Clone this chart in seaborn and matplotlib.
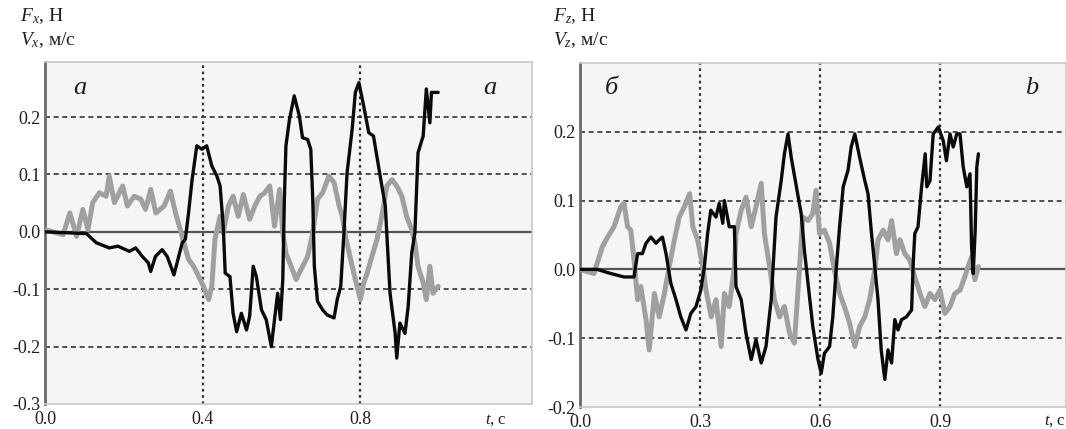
import numpy as np
import pandas as pd
import matplotlib
matplotlib.use("Agg")
import matplotlib.pyplot as plt
import seaborn as sns

# ---------------- data ----------------
# Panel a: black curve
ta_black = [0.0, 0.105, 0.13, 0.163, 0.185, 0.214, 0.23, 0.247, 0.262, 0.268, 0.28, 0.297, 0.31, 0.327,
            0.339, 0.348, 0.356, 0.364, 0.373, 0.385, 0.398, 0.41, 0.423, 0.436, 0.444, 0.452, 0.457,
            0.469, 0.477, 0.486, 0.498, 0.511, 0.519, 0.528, 0.536, 0.549, 0.561, 0.574, 0.582, 0.59,
            0.597, 0.603, 0.607, 0.611, 0.62, 0.632, 0.645, 0.653, 0.666, 0.674, 0.679, 0.683, 0.691,
            0.704, 0.716, 0.733, 0.741, 0.75, 0.758, 0.766, 0.779, 0.787, 0.796, 0.808, 0.821, 0.833,
            0.85, 0.863, 0.875, 0.888, 0.892, 0.9, 0.913, 0.921, 0.93, 0.938, 0.946, 0.959, 0.967,
            0.976, 0.98, 0.997]
va_black = [0.0, -0.003, -0.019, -0.028, -0.025, -0.034, -0.028, -0.043, -0.054, -0.069, -0.043, -0.031,
            -0.043, -0.075, -0.043, -0.019, -0.013, 0.033, 0.091, 0.15, 0.144, 0.15, 0.115, 0.097, 0.08,
            0.01, -0.072, -0.078, -0.142, -0.174, -0.142, -0.171, -0.147, -0.06, -0.078, -0.136, -0.153,
            -0.2, -0.153, -0.107, -0.153, -0.083, 0.057, 0.15, 0.196, 0.237, 0.202, 0.164, 0.161, 0.144,
            0.057, -0.06, -0.121, -0.136, -0.145, -0.15, -0.118, -0.095, -0.002, 0.103, 0.179, 0.243,
            0.26, 0.22, 0.173, 0.167, 0.097, 0.045, -0.107, -0.177, -0.22, -0.159, -0.177, -0.13, -0.037,
            -0.002, 0.138, 0.167, 0.249, 0.19, 0.243, 0.243]
# Panel a: grey curve
ta_grey = [0.0, 0.046, 0.063, 0.08, 0.096, 0.109, 0.121, 0.138, 0.155, 0.163, 0.176, 0.197, 0.209, 0.226,
           0.243, 0.255, 0.268, 0.281, 0.302, 0.318, 0.331, 0.343, 0.352, 0.364, 0.377, 0.39, 0.402,
           0.415, 0.423, 0.431, 0.444, 0.452, 0.465, 0.477, 0.49, 0.503, 0.519, 0.532, 0.545, 0.557,
           0.57, 0.582, 0.595, 0.603, 0.611, 0.624, 0.637, 0.649, 0.666, 0.679, 0.691, 0.704, 0.72,
           0.733, 0.746, 0.754, 0.762, 0.775, 0.787, 0.8, 0.808, 0.817, 0.829, 0.842, 0.854, 0.867,
           0.88, 0.892, 0.905, 0.917, 0.93, 0.938, 0.946, 0.959, 0.967, 0.976, 0.984, 0.997]
va_grey = [0.004, -0.005, 0.033, -0.008, 0.039, 0.004, 0.051, 0.068, 0.062, 0.097, 0.051, 0.08, 0.045,
           0.062, 0.057, 0.039, 0.074, 0.033, 0.045, 0.071, 0.033, 0.004, -0.019, -0.048, -0.06, -0.078,
           -0.095, -0.118, -0.095, -0.013, 0.027, -0.002, 0.045, 0.062, 0.027, 0.065, 0.022, 0.045,
           0.062, 0.068, 0.08, 0.01, 0.074, -0.002, -0.037, -0.06, -0.083, -0.066, -0.043, -0.002,
           0.057, 0.068, 0.097, 0.086, 0.045, 0.027, -0.008, -0.048, -0.083, -0.118, -0.089, -0.072,
           -0.043, -0.013, 0.027, 0.08, 0.091, 0.08, 0.062, 0.027, 0.004, -0.019, -0.06, -0.089, -0.118,
           -0.06, -0.107, -0.095]

# Panel b: black curve
tb_black = [0.0, 0.043, 0.077, 0.11, 0.135, 0.144, 0.156, 0.165, 0.177, 0.19, 0.198, 0.206, 0.215, 0.227,
            0.24, 0.252, 0.265, 0.277, 0.29, 0.302, 0.311, 0.319, 0.327, 0.34, 0.348, 0.357, 0.361,
            0.373, 0.386, 0.39, 0.403, 0.415, 0.428, 0.44, 0.453, 0.465, 0.478, 0.49, 0.503, 0.511,
            0.52, 0.528, 0.541, 0.553, 0.561, 0.57, 0.582, 0.595, 0.603, 0.611, 0.624, 0.632, 0.641,
            0.649, 0.658, 0.67, 0.678, 0.687, 0.699, 0.712, 0.72, 0.728, 0.737, 0.745, 0.753, 0.762,
            0.77, 0.779, 0.787, 0.795, 0.804, 0.816, 0.829, 0.833, 0.837, 0.845, 0.854, 0.863, 0.867,
            0.875, 0.883, 0.896, 0.908, 0.916, 0.925, 0.933, 0.942, 0.95, 0.958, 0.967, 0.975, 0.979,
            0.983, 0.988, 0.992, 0.996]
vb_black = [0.0, 0.0, -0.006, -0.011, -0.011, 0.023, 0.023, 0.038, 0.047, 0.038, 0.043, 0.047, 0.023,
            -0.02, -0.044, -0.069, -0.088, -0.064, -0.054, -0.03, 0.004, 0.052, 0.086, 0.076, 0.096,
            0.067, 0.1, 0.062, 0.062, -0.025, -0.044, -0.093, -0.131, -0.102, -0.136, -0.112, -0.044,
            0.076, 0.129, 0.168, 0.197, 0.163, 0.12, 0.081, 0.028, -0.02, -0.083, -0.131, -0.151,
            -0.122, -0.112, -0.069, 0.004, 0.062, 0.12, 0.144, 0.178, 0.197, 0.163, 0.129, 0.11, 0.057,
            0.004, -0.044, -0.117, -0.16, -0.117, -0.136, -0.073, -0.088, -0.073, -0.069, -0.059, 0.009,
            0.052, 0.062, 0.12, 0.168, 0.12, 0.129, 0.197, 0.207, 0.187, 0.158, 0.197, 0.178, 0.197,
            0.197, 0.149, 0.12, 0.139, 0.033, -0.006, 0.057, 0.149, 0.168]
# Panel b: grey curve
tb_grey = [0.0, 0.035, 0.043, 0.056, 0.069, 0.085, 0.102, 0.11, 0.119, 0.127, 0.135, 0.144, 0.152, 0.165,
           0.173, 0.186, 0.198, 0.211, 0.223, 0.236, 0.248, 0.261, 0.274, 0.282, 0.294, 0.307, 0.315,
           0.328, 0.34, 0.353, 0.361, 0.373, 0.386, 0.39, 0.403, 0.415, 0.428, 0.44, 0.453, 0.461,
           0.474, 0.486, 0.499, 0.511, 0.524, 0.536, 0.549, 0.557, 0.57, 0.582, 0.59, 0.599, 0.611,
           0.624, 0.636, 0.649, 0.661, 0.674, 0.687, 0.699, 0.712, 0.724, 0.737, 0.745, 0.758, 0.77,
           0.779, 0.791, 0.8, 0.812, 0.824, 0.837, 0.85, 0.862, 0.875, 0.887, 0.9, 0.912, 0.925, 0.937,
           0.95, 0.962, 0.97, 0.979, 0.987, 0.996]
vb_grey = [0.0, -0.006, 0.009, 0.033, 0.047, 0.062, 0.091, 0.096, 0.062, 0.057, 0.014, -0.044, -0.025,
           -0.073, -0.117, -0.035, -0.069, -0.035, 0.004, 0.043, 0.076, 0.091, 0.11, 0.062, 0.043, 0.004,
           -0.03, -0.069, -0.044, -0.112, -0.035, -0.054, 0.004, 0.052, 0.086, 0.105, 0.062, 0.091,
           0.125, 0.052, 0.004, -0.044, -0.069, -0.054, -0.093, -0.107, 0.004, 0.076, 0.071, 0.081,
           0.115, 0.052, 0.057, 0.038, -0.001, -0.035, -0.054, -0.078, -0.112, -0.083, -0.069, -0.044,
           -0.001, 0.043, 0.057, 0.043, 0.071, 0.023, 0.043, 0.023, 0.014, -0.011, -0.035, -0.054,
           -0.035, -0.044, -0.03, -0.064, -0.054, -0.035, -0.03, -0.011, 0.004, 0.018, -0.015, 0.004]

xticks_a = [0.0, 0.4, 0.8]
xticks_b = [0.0, 0.3, 0.6, 0.9]
yticks_a = [-0.3, -0.2, -0.1, 0.0, 0.1, 0.2]
yticks_b = [-0.2, -0.1, 0.0, 0.1, 0.2]

# ---------------- style ----------------
sns.set_theme(style="white")
plt.rcParams['font.family'] = ['Liberation Serif', 'DejaVu Serif']
plt.rcParams['mathtext.fontset'] = 'custom'
plt.rcParams['mathtext.rm'] = 'Liberation Serif'
plt.rcParams['mathtext.it'] = 'Liberation Serif:italic'

W, H = 1066, 429
fig = plt.figure(figsize=(W / 100, H / 100), dpi=100)
fig.patch.set_facecolor('white')

ax_a = fig.add_axes([45 / W, 1 - 404 / H, (532 - 45) / W, (404 - 62) / H])
ax_b = fig.add_axes([580 / W, 1 - 407 / H, (1066 - 580) / W, (407 - 63) / H])

BLACK = '#0a0a0a'
GREY = '#a0a0a0'
TXT = '#1e1e1e'


def style_axes(ax, xlim, ylim, xticks, yticks):
    ax.set_facecolor('#f4f6f6')
    ax.set_xlim(*xlim)
    ax.set_ylim(*ylim)
    ax.set_xticks(xticks)
    ax.set_xticklabels([f"{v:.1f}" for v in xticks])
    ax.set_yticks(yticks)
    ax.set_yticklabels([f"{v:.1f}" for v in yticks])
    ax.tick_params(axis='both', labelsize=13, length=0, colors=TXT)
    ax.tick_params(axis='y', pad=3)
    ax.tick_params(axis='x', pad=5)
    for s in ['top', 'right', 'bottom']:
        ax.spines[s].set_color('#c8c8c8')
        ax.spines[s].set_linewidth(1.2)
    ax.spines['left'].set_color('#6a6a6a')
    ax.spines['left'].set_linewidth(2.0)
    for y in yticks:
        if abs(y) > 1e-9 and ylim[0] < y < ylim[1]:
            ax.axhline(y, color='#333333', lw=1.2, ls=(0, (3, 2.2)), zorder=1)
    for x in xticks:
        if x > 1e-9:
            ax.axvline(x, color='#333333', lw=1.6, ls=(0, (1.2, 1.6)), zorder=1)
    ax.axhline(0.0, color='#555555', lw=1.6, zorder=1.5)
    ax.set_xlabel('')
    ax.set_ylabel('')


df_a_g = pd.DataFrame({'t': ta_grey, 'v': va_grey})
df_a_b = pd.DataFrame({'t': ta_black, 'v': va_black})
df_b_g = pd.DataFrame({'t': tb_grey, 'v': vb_grey})
df_b_b = pd.DataFrame({'t': tb_black, 'v': vb_black})

sns.lineplot(data=df_a_g, x='t', y='v', ax=ax_a, color=GREY, lw=3.6, estimator=None, sort=False, zorder=3)
sns.lineplot(data=df_a_b, x='t', y='v', ax=ax_a, color=BLACK, lw=2.4, estimator=None, sort=False, zorder=4)
sns.lineplot(data=df_b_g, x='t', y='v', ax=ax_b, color=GREY, lw=3.6, estimator=None, sort=False, zorder=3)
sns.lineplot(data=df_b_b, x='t', y='v', ax=ax_b, color=BLACK, lw=2.4, estimator=None, sort=False, zorder=4)

style_axes(ax_a, (0.0, 1.235), (-0.3, 0.296), xticks_a, yticks_a)
style_axes(ax_b, (0.0, 1.215), (-0.2, 0.3), xticks_b, yticks_b)

# panel letters
for x, y, s in [(80, 88, 'а'), (490, 88, 'a'), (611, 88, 'б'), (1032, 88, 'b')]:
    fig.text(x / W, 1 - y / H, s, fontsize=19, style='italic', ha='center', va='center', color=TXT)

# axis headings
fig.text(20 / W, 1 - 16 / H, r'$F_x$, Н', fontsize=14, ha='left', va='center', color=TXT)
fig.text(20 / W, 1 - 40 / H, r'$V_x$, м/с', fontsize=14, ha='left', va='center', color=TXT)
fig.text(553 / W, 1 - 16 / H, r'$F_z$, Н', fontsize=14, ha='left', va='center', color=TXT)
fig.text(553 / W, 1 - 40 / H, r'$V_z$, м/с', fontsize=14, ha='left', va='center', color=TXT)

# time labels
fig.text(485 / W, 1 - 420 / H, r'$t$, с', fontsize=12, ha='left', va='center', color=TXT)
fig.text(1044 / W, 1 - 421 / H, r'$t$, с', fontsize=12, ha='left', va='center', color=TXT)

fig.savefig('out.png', dpi=100, facecolor='white')
